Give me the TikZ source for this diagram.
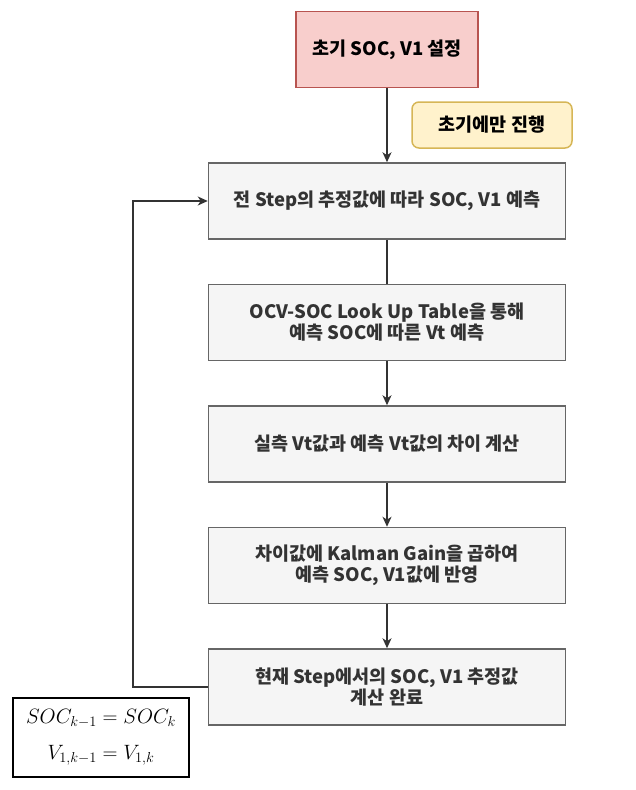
\documentclass[tikz,border=0pt]{standalone}
\usepackage{fontspec}
\setmainfont{Noto Sans CJK KR}
\usetikzlibrary{arrows.meta}
\definecolor{pinkf}{HTML}{F8CECC}
\definecolor{pinkd}{HTML}{B85450}
\definecolor{yelf}{HTML}{FFF2CC}
\definecolor{yeld}{HTML}{D6B656}
\definecolor{grayf}{HTML}{F5F5F5}
\definecolor{grayd}{HTML}{666666}
\definecolor{txt}{HTML}{333333}
\definecolor{linec}{HTML}{333333}
\tikzset{
  base/.style={font=\fontsize{18.5}{21}\selectfont\bfseries, align=center, inner sep=0pt, line width=1.5pt},
  startbox/.style={base, draw=pinkd, fill=pinkf, minimum width=182pt, minimum height=76pt, text=black},
  notebox/.style={base, draw=yeld, fill=yelf, rounded corners=7pt, minimum width=160pt, minimum height=46pt, text=black},
  procbox/.style={base, draw=grayd, fill=grayf, minimum width=357pt, minimum height=76pt, text=txt},
  mathbox/.style={draw=black, line width=1.6pt, fill=white, minimum width=176pt, minimum height=79pt, align=center, inner sep=0pt, font=\fontsize{20.5}{27}\selectfont},
  conn/.style={draw=linec, line width=1.5pt},
  arr/.style={conn, -{Stealth[length=10pt,width=9pt,inset=3pt]}}
}
\begin{document}
\begin{tikzpicture}[x=1pt,y=-1pt]
\useasboundingbox (0,0) rectangle (636,790);
\node[startbox] (s0) at (387,49.5) {초기 SOC, V1 설정};
\node[notebox] (n0) at (492,125) {초기에만 진행};
\node[procbox] (b1) at (387,201) {전 Step의 추정값에 따라 SOC, V1 예측};
\node[procbox] (b2) at (387,322.5) {OCV-SOC Look Up Table을 통해\\예측 SOC에 따른 Vt 예측};
\node[procbox] (b3) at (387,444) {실측 Vt값과 예측 Vt값의 차이 계산};
\node[procbox] (b4) at (387,565.5) {차이값에 Kalman Gain을 곱하여\\예측 SOC, V1값에 반영};
\node[procbox] (b5) at (387,687) {현재 Step에서의 SOC, V1 추정값\\계산 완료};
\node[mathbox] (m0) at (101,737.5) {$SOC_{k-1}=SOC_k$\\[9pt]$V_{1,k-1}=V_{1,k}$};
\coordinate (c1) at (133,687);
\coordinate (c2) at (133,201);
\draw[arr] (s0) -- (b1);
\draw[conn] (b1) -- (b2);
\draw[arr] (b2) -- (b3);
\draw[arr] (b3) -- (b4);
\draw[arr] (b4) -- (b5);
\draw[arr] (b5.west) -- (c1) -- (c2) -- (b1.west);
\end{tikzpicture}
\end{document}
